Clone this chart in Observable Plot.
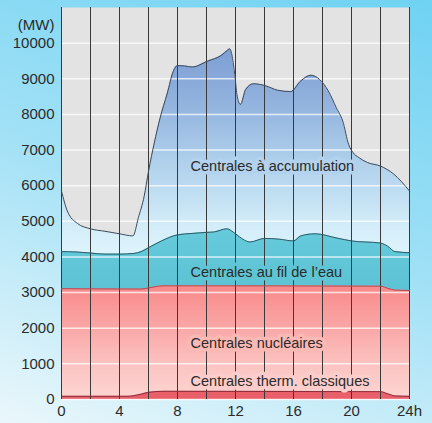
<!DOCTYPE html>
<html><head><meta charset="utf-8">
<script src="https://cdn.jsdelivr.net/npm/d3@7"></script>
<script src="https://cdn.jsdelivr.net/npm/@observablehq/plot@0.6"></script>
<style>
html,body{margin:0;padding:0;}
body{width:432px;height:423px;overflow:hidden;background:linear-gradient(200deg,#6fd2f2 0%,#a2e1f6 50%,#eaf7fb 100%);}
</style>
</head><body><div id="chart"></div>
<script>
// Total load (top of "Centrales à accumulation"), MW
const totalHours = [0, 0.4, 1.1, 2, 3, 4, 4.93, 5.3, 5.7, 6.0, 6.4, 6.8, 7.3, 7.7, 8.0, 8.5, 9.0, 10.1, 11.0, 11.45, 11.6, 11.95, 12.1, 12.34, 12.7, 13.25, 14.1, 14.9, 15.8, 16.5, 17.2, 17.8, 18.4, 18.95, 19.4, 19.8, 20.1, 20.5, 21.1, 22.0, 22.9, 24];
const totalLoad = [5850, 5290, 4940, 4790, 4720, 4650, 4590, 5100, 5700, 6400, 7200, 7900, 8600, 9200, 9370, 9360, 9330, 9500, 9650, 9800, 9840, 9120, 8560, 8280, 8700, 8860, 8800, 8680, 8640, 8940, 9100, 8980, 8660, 8190, 7810, 7160, 6930, 6790, 6650, 6550, 6330, 5850];
// Cumulative top of "Centrales au fil de l'eau"
const riverHours = [0, 1, 2, 3, 4, 5, 5.5, 6, 6.9, 8, 9, 10, 10.5, 11.4, 12, 12.5, 13, 14, 15, 16, 16.5, 17.5, 19, 20, 22, 22.5, 23, 24];
const riverTop = [4150, 4140, 4110, 4080, 4080, 4100, 4150, 4260, 4450, 4620, 4660, 4690, 4700, 4790, 4650, 4500, 4420, 4520, 4500, 4450, 4590, 4650, 4530, 4450, 4390, 4300, 4150, 4120];
// Cumulative top of "Centrales nucléaires"
const nuclearHours = [0, 5.5, 6, 7, 12, 22, 22.5, 23, 24];
const nuclearTop = [3110, 3100, 3130, 3190, 3190, 3180, 3120, 3070, 3060];
// Top of "Centrales therm. classiques"
const thermalHours = [0, 4.5, 5.5, 6, 7, 22, 22.5, 23, 24];
const thermalTop = [90, 90, 150, 200, 230, 220, 160, 100, 90];

const layerNames = ["Centrales à accumulation", "Centrales au fil de l’eau", "Centrales nucléaires", "Centrales therm. classiques"];
const layerLabelY = [6530, 3560, 1570, 505];
const layerLabelX = 8.9;
const layerLabelHalo = ["#b2d2ee", "#5fc5d5", "#fbb9b6", "#fccdca"];

const xTicks = [0, 4, 8, 12, 16, 20, 24];
const hourLines = [0, 2, 4, 6, 8, 10, 12, 14, 16, 18, 20, 22, 24];
const yTicks = [0, 1000, 2000, 3000, 4000, 5000, 6000, 7000, 8000, 9000, 10000];
const unitLabel = "(MW)";

const series = (hs, vs) => hs.map((h, i) => ({h, v: vs[i]}));
const total = series(totalHours, totalLoad);
const river = series(riverHours, riverTop);
const nuclear = series(nuclearHours, nuclearTop);
const thermal = series(thermalHours, thermalTop);
const labels = layerNames.map((name, i) => ({name, x: layerLabelX, y: layerLabelY[i], halo: layerLabelHalo[i]}));

const gradients = [
  {id: "gStorage", stops: [[10000, "#7c9dd3"], [9000, "#88a9d9"], [8000, "#97b8e0"], [7000, "#a9cae8"], [6000, "#bcdbf1"], [5000, "#d0ebf8"], [4000, "#e0f5fc"]]},
  {id: "gNuclear", stops: [[3200, "#f8898a"], [2000, "#faa7a6"], [1000, "#fbc2c0"], [0, "#fdd6d3"]]},
  {id: "gRiver", stops: [[4800, "#66cadb"], [3000, "#5cc3d4"]]}
];

function gradientDefs(index, scales) {
  const ns = "http://www.w3.org/2000/svg";
  const defs = document.createElementNS(ns, "defs");
  const y = scales.y;
  for (const g of gradients) {
    const lg = document.createElementNS(ns, "linearGradient");
    lg.setAttribute("id", g.id);
    lg.setAttribute("gradientUnits", "userSpaceOnUse");
    const v0 = g.stops[0][0], v1 = g.stops[g.stops.length - 1][0];
    lg.setAttribute("x1", 0); lg.setAttribute("x2", 0);
    lg.setAttribute("y1", y(v0)); lg.setAttribute("y2", y(v1));
    for (const [v, c] of g.stops) {
      const s = document.createElementNS(ns, "stop");
      s.setAttribute("offset", (v - v0) / (v1 - v0));
      s.setAttribute("stop-color", c);
      lg.appendChild(s);
    }
    defs.appendChild(lg);
  }
  const g = document.createElementNS(ns, "g");
  g.appendChild(defs);
  return g;
}

const curve = "monotone-x";
const chart = Plot.plot({
  width: 432,
  height: 423,
  marginLeft: 61,
  marginRight: 23,
  marginTop: 7,
  marginBottom: 24,
  style: {fontFamily: "'Liberation Sans', Arial, sans-serif", fontSize: "15px", color: "#2b2b2b", background: "transparent", overflow: "visible"},
  x: {domain: [0, 24], ticks: xTicks, tickFormat: d => d === 24 ? "24h" : String(d), tickSize: 0, tickPadding: 6, label: null},
  y: {domain: [0, 11000], ticks: yTicks, tickFormat: d => String(d), tickSize: 0, tickPadding: 7, label: null},
  marks: [
    gradientDefs,
    Plot.frame({fill: "#e3e3e3", stroke: null}),
    Plot.areaY(total, {x: "h", y1: 0, y2: "v", fill: "url(#gStorage)", curve}),
    Plot.areaY(river, {x: "h", y1: 0, y2: "v", fill: "url(#gRiver)", curve}),
    Plot.areaY(nuclear, {x: "h", y1: 0, y2: "v", fill: "url(#gNuclear)", curve}),
    Plot.areaY(thermal, {x: "h", y1: 0, y2: "v", fill: "#e9606b", curve}),
    Plot.ruleY(yTicks, {stroke: "white", strokeOpacity: 0.75, strokeWidth: 1.5}),
    Plot.ruleX(hourLines, {stroke: "#3a3a3a", strokeWidth: 1}),
    Plot.lineY(total, {x: "h", y: "v", stroke: "#3f4a5a", strokeWidth: 1, curve}),
    Plot.lineY(river, {x: "h", y: "v", stroke: "#2f5a66", strokeWidth: 1, curve}),
    Plot.lineY(nuclear, {x: "h", y: "v", stroke: "#b04a55", strokeWidth: 1, curve}),
    Plot.lineY(thermal, {x: "h", y: "v", stroke: "#8a2e3c", strokeWidth: 1, curve}),
    Plot.text(labels, {x: "x", y: "y", text: "name", textAnchor: "start", fontSize: 14.5, fill: "#2b2b2b", stroke: "halo", strokeWidth: 7, paintOrder: "stroke"}),
    Plot.text([unitLabel], {x: 0, y: 10500, text: d => d, textAnchor: "end", dx: -7, fontSize: 15, fill: "#2b2b2b"})
  ]
});
document.getElementById("chart").appendChild(chart);
</script>
</body></html>
